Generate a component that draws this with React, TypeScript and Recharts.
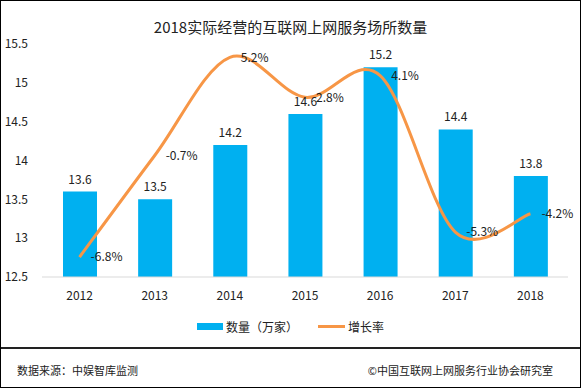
import { ComposedChart, Bar, Line, XAxis, YAxis, LabelList, Legend } from "recharts";

// 2012-2018 互联网上网服务场所数量（万家）及增长率
const years = ["2012", "2013", "2014", "2015", "2016", "2017", "2018"];
const counts = [13.6, 13.5, 14.2, 14.6, 15.2, 14.4, 13.8];
const growth = [-6.8, -0.7, 5.2, 2.8, 4.1, -5.3, -4.2];
const countTicks = [12.5, 13, 13.5, 14, 14.5, 15, 15.5];
const seriesNames = ["数量（万家）", "增长率"];

const data = years.map((year, i) => ({ year, count: counts[i], rate: growth[i] }));

const FONT = '"Noto Sans CJK SC", "Noto Sans", sans-serif';
const BLUE = "#00B0F0";
const ORANGE = "#F79646";

// Excel-style smoothed line (Catmull-Rom through every point)
const excelSmooth = (ctx: any) => {
  let pts: number[][] = [];
  return {
    areaStart() {},
    areaEnd() {},
    lineStart() {
      pts = [];
    },
    point(x: number, y: number) {
      pts.push([+x, +y]);
    },
    lineEnd() {
      const n = pts.length;
      if (!n) return;
      ctx.moveTo(pts[0][0], pts[0][1]);
      for (let i = 0; i < n - 1; i++) {
        const p0 = pts[Math.max(0, i - 1)];
        const p1 = pts[i];
        const p2 = pts[i + 1];
        const p3 = pts[Math.min(n - 1, i + 2)];
        ctx.bezierCurveTo(
          p1[0] + (p2[0] - p0[0]) / 6,
          p1[1] + (p2[1] - p0[1]) / 6,
          p2[0] - (p3[0] - p1[0]) / 6,
          p2[1] - (p3[1] - p1[1]) / 6,
          p2[0],
          p2[1]
        );
      }
    },
  };
};

const renderLegend = (props: any) => {
  const items = [...(props.payload || [])].sort(
    (a: any, b: any) => seriesNames.indexOf(a.value) - seriesNames.indexOf(b.value)
  );
  return (
    <div style={{ display: "flex", justifyContent: "center", gap: 20, fontFamily: FONT, fontSize: 12, color: "#222" }}>
      {items.map((it: any) => (
        <div key={it.value} style={{ display: "flex", alignItems: "center", gap: 3 }}>
          {it.type === "line" ? (
            <div style={{ width: 27, height: 3, background: it.color }} />
          ) : (
            <div style={{ width: 26, height: 7, background: it.color }} />
          )}
          <span>{it.value}</span>
        </div>
      ))}
    </div>
  );
};

export default function App() {
  return (
    <div
      style={{
        position: "absolute",
        left: 0,
        top: 0,
        width: 581,
        height: 388,
        boxSizing: "border-box",
        border: "1px solid #000",
        background: "#fff",
        fontFamily: FONT,
      }}
    >
      <div
        style={{
          position: "absolute",
          top: 15,
          left: 0,
          width: 579,
          textAlign: "center",
          fontSize: 15,
          color: "#222",
        }}
      >
        2018实际经营的互联网上网服务场所数量
      </div>

      <div style={{ position: "absolute", left: -1, top: -1 }}>
        <ComposedChart width={581} height={348} data={data} margin={{ top: 44, right: 13, left: 0, bottom: 41 }}>
          <XAxis
            dataKey="year"
            tickLine={false}
            axisLine={{ stroke: "#D9D9D9" }}
            tickMargin={8}
            tick={{ fontSize: 12, fill: "#222", fontFamily: FONT }}
          />
          <YAxis
            yAxisId="count"
            width={42}
            domain={[12.5, 15.5]}
            ticks={countTicks}
            tickLine={false}
            axisLine={false}
            tickMargin={8}
            tick={{ fontSize: 12, fill: "#222", fontFamily: FONT }}
          />
          <YAxis yAxisId="rate" orientation="right" hide domain={[-8, 6]} />
          <Legend
            verticalAlign="middle"
            align="center"
            content={renderLegend}
            wrapperStyle={{ top: 318, left: 0, width: 581, height: 18 }}
          />
          <Bar yAxisId="count" dataKey="count" name={seriesNames[0]} fill={BLUE} barSize={34} isAnimationActive={false}>
            <LabelList
              dataKey="count"
              position="top"
              offset={8}
              style={{ fontSize: 12, fill: "#222", fontFamily: FONT }}
            />
          </Bar>
          <Line
            yAxisId="rate"
            dataKey="rate"
            name={seriesNames[1]}
            type={excelSmooth as any}
            stroke={ORANGE}
            strokeWidth={3}
            dot={false}
            legendType="line"
            isAnimationActive={false}
          >
            <LabelList
              dataKey="rate"
              position="right"
              offset={11}
              formatter={(v: any) => `${Number(v).toFixed(1)}%`}
              style={{ fontSize: 12, fill: "#222", fontFamily: FONT }}
            />
          </Line>
        </ComposedChart>
      </div>

      <div style={{ position: "absolute", left: 0, top: 346, width: 579, height: 2, background: "#222" }} />
      <div style={{ position: "absolute", left: 16, top: 361, fontSize: 11, color: "#222" }}>数据来源：中娱智库监测</div>
      <div style={{ position: "absolute", right: 27, top: 361, fontSize: 11, color: "#222" }}>
        ©中国互联网上网服务行业协会研究室
      </div>
    </div>
  );
}
